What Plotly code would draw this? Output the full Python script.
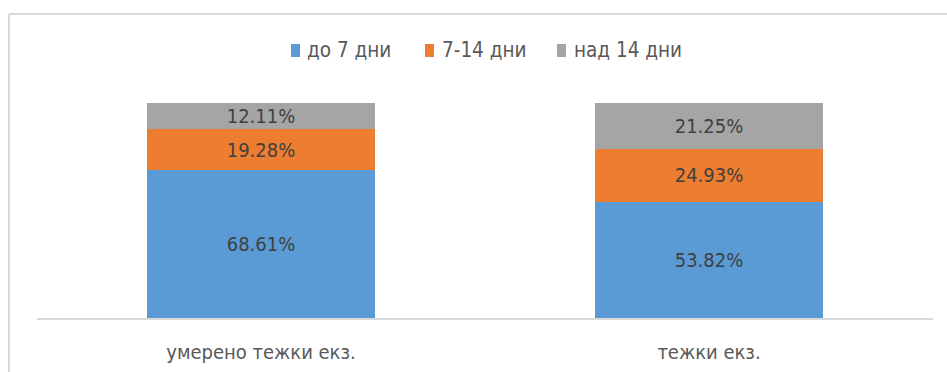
import plotly.graph_objects as go

categories = ["умерено тежки екз.", "тежки екз."]
series_names = ["до 7 дни", "7-14 дни", "над 14 дни"]
upto7 = [68.61, 53.82]
d7_14 = [19.28, 24.93]
over14 = [12.11, 21.25]
colors = ["#5B9BD5", "#ED7D31", "#A5A5A5"]

FONT = "DejaVu Sans Condensed, Arial, sans-serif"

fig = go.Figure()
for name, vals, col in zip(series_names, [upto7, d7_14, over14], colors):
    fig.add_trace(go.Bar(
        x=categories, y=vals, name=name,
        marker=dict(color=col, line=dict(width=0)),
        text=[f"{v:.2f}%" for v in vals],
        textposition="inside", insidetextanchor="middle",
        constraintext="none",
        textfont=dict(color="#404040", size=20, family=FONT),
        hoverinfo="skip", showlegend=False,
    ))

L, R, T, B = 37, 14, 103, 54
W, H = 947, 372
pw = W - L - R
ph = H - T - B

def px(x):
    return (x - L) / pw

def py(y):
    return (H - B - y) / ph

# manual legend (Excel style: small square + text)
legend_sq_x = [291, 425, 557]
legend_tx_x = [305, 440, 572]
shapes = []
annotations = []
for name, col, sx, tx in zip(series_names, colors, legend_sq_x, legend_tx_x):
    shapes.append(dict(type="rect", xref="paper", yref="paper",
                       x0=px(sx), x1=px(sx + 9), y0=py(44), y1=py(57),
                       fillcolor=col, line=dict(width=0)))
    annotations.append(dict(text=name, xref="paper", yref="paper",
                            x=px(tx), y=py(50), xanchor="left", yanchor="middle",
                            showarrow=False,
                            font=dict(size=20.5, color="#595959", family=FONT)))

shapes += [
    dict(type="line", xref="paper", yref="paper",
         x0=px(9), x1=px(9), y0=py(14), y1=py(380),
         line=dict(color="#D9D9D9", width=2)),
    dict(type="line", xref="paper", yref="paper",
         x0=px(9), x1=px(960), y0=py(14), y1=py(14),
         line=dict(color="#D9D9D9", width=2)),
]

fig.update_layout(
    width=W, height=H, barmode="stack", bargap=0.49,
    margin=dict(l=L, r=R, t=T, b=B, pad=0),
    paper_bgcolor="white", plot_bgcolor="white",
    font=dict(family=FONT, color="#595959", size=20),
    showlegend=False,
    uniformtext=dict(minsize=20, mode="show"),
    xaxis=dict(showline=True, linecolor="#D9D9D9", linewidth=1.5,
               ticks="", showgrid=False, automargin=False,
               tickfont=dict(size=20, color="#595959", family=FONT),
               ticklabelstandoff=15),
    yaxis=dict(range=[0, 100], visible=False, showgrid=False,
               fixedrange=True, automargin=False),
    shapes=shapes,
    annotations=annotations,
)

fig.write_html("out.html")
